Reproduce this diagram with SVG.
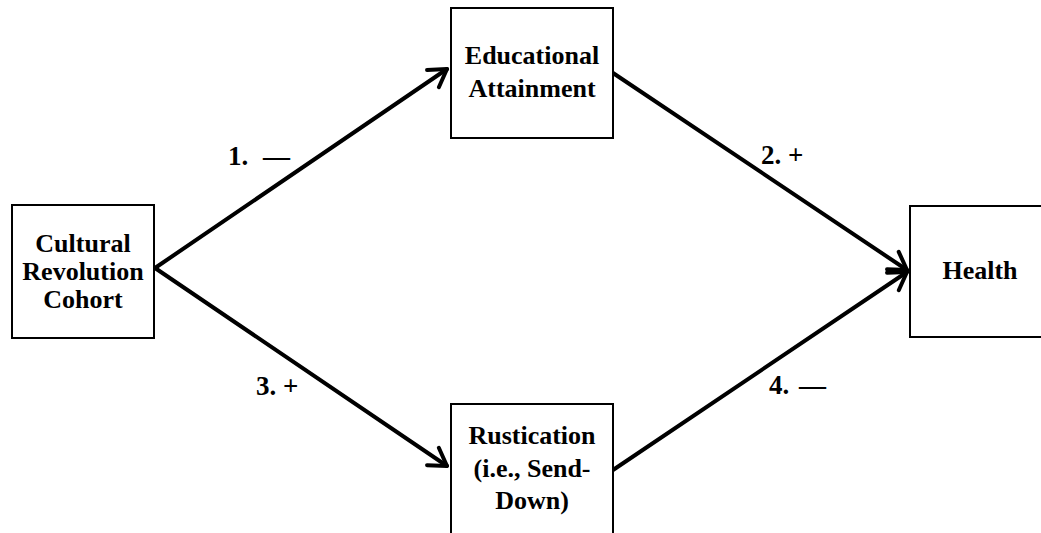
<svg xmlns="http://www.w3.org/2000/svg" width="1041" height="533" viewBox="0 0 1041 533">
<style>
.box{fill:#fff;stroke:#000;stroke-width:2}
.t{font-family:"Liberation Serif","Times New Roman",serif;font-weight:bold;font-size:26px;fill:#000;text-anchor:middle}
.l{font-family:"Liberation Serif","Times New Roman",serif;font-weight:bold;font-size:27px;fill:#000}
.c{fill:none;stroke:#000;stroke-width:4;stroke-linecap:round}
</style>
<defs>
<marker id="ah" markerUnits="userSpaceOnUse" markerWidth="30" markerHeight="30" viewBox="0 0 30 30" refX="22" refY="15" orient="auto">
<path d="M5,4.5 L22,15 L5,25.5" fill="none" stroke="#000" stroke-width="4" stroke-linecap="round" stroke-linejoin="round"/>
</marker>
</defs>
<rect width="1041" height="533" fill="#fff"/>
<g id="connectors">
<line class="c" x1="155" y1="268" x2="447" y2="69" marker-end="url(#ah)"/>
<line class="c" x1="613" y1="73" x2="907" y2="270" marker-end="url(#ah)"/>
<line class="c" x1="155" y1="268" x2="447" y2="466" marker-end="url(#ah)"/>
<line class="c" x1="613" y1="470" x2="907" y2="272" marker-end="url(#ah)"/>
</g>
<g id="node-cultural">
<rect class="box" x="12" y="205" width="142" height="133"/>
<text class="t" x="83" y="252">Cultural</text>
<text class="t" x="83" y="280">Revolution</text>
<text class="t" x="83" y="308">Cohort</text>
</g>
<g id="node-education">
<rect class="box" x="451" y="8" width="162" height="130"/>
<text class="t" x="532" y="64">Educational</text>
<text class="t" x="532" y="97">Attainment</text>
</g>
<g id="node-rustication">
<rect class="box" x="451" y="404" width="162" height="140"/>
<text class="t" x="532" y="444">Rustication</text>
<text class="t" x="532" y="477">(i.e., Send-</text>
<text class="t" x="532" y="509">Down)</text>
</g>
<g id="node-health">
<rect class="box" x="910" y="206" width="140" height="131"/>
<text class="t" x="980" y="279">Health</text>
</g>
<g id="labels">
<text class="l" x="228" y="165">1.<tspan x="263">—</tspan></text>
<text class="l" x="761" y="164">2. +</text>
<text class="l" x="256" y="395">3. +</text>
<text class="l" x="769" y="394">4.<tspan x="799">—</tspan></text>
</g>
</svg>
